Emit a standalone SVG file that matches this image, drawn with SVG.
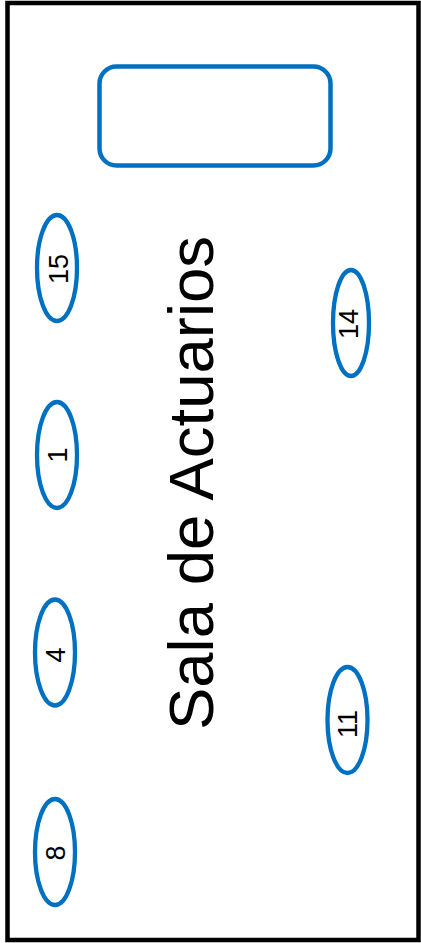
<svg xmlns="http://www.w3.org/2000/svg" width="421" height="943" viewBox="0 0 421 943">
<style>
.seat{fill:#fff;stroke:#0070C0;stroke-width:4.3}
.num{font-family:"Liberation Sans",Arial,sans-serif;font-size:27px;fill:#000;text-anchor:middle}
.title{font-family:"Liberation Sans",Arial,sans-serif;font-size:63.5px;fill:#000;text-anchor:middle}
</style>
<rect x="0" y="0" width="421" height="943" fill="#fff"/>
<g id="room"><rect x="7.5" y="3" width="411" height="937" fill="#fff" stroke="#000" stroke-width="4.5"/></g>
<g id="screen"><rect x="99.5" y="66.5" width="231" height="99" rx="17" fill="#fff" stroke="#0070C0" stroke-width="4.5"/></g>
<g id="title"><text class="title" transform="translate(190,483) rotate(-90)" x="0" y="22.7">Sala de Actuarios</text></g>
<g id="seat15"><ellipse class="seat" cx="57" cy="268" rx="20" ry="53"/><text class="num" transform="translate(58,269) rotate(-90)" x="0" y="9.7">15</text></g>
<g id="seat1"><ellipse class="seat" cx="57" cy="455" rx="20" ry="53"/><text class="num" transform="translate(57.5,455) rotate(-90)" x="0" y="9.7">1</text></g>
<g id="seat4"><ellipse class="seat" cx="55" cy="652.5" rx="20" ry="53"/><text class="num" transform="translate(55.5,655) rotate(-90)" x="0" y="9.7">4</text></g>
<g id="seat8"><ellipse class="seat" cx="55" cy="852" rx="20" ry="53"/><text class="num" transform="translate(55,853) rotate(-90)" x="0" y="9.7">8</text></g>
<g id="seat14"><ellipse class="seat" cx="351" cy="323" rx="18" ry="53"/><text class="num" transform="translate(348,324) rotate(-90)" x="0" y="9.7">14</text></g>
<g id="seat11"><ellipse class="seat" cx="347.5" cy="720" rx="20" ry="53"/><text class="num" transform="translate(347.5,724) rotate(-90)" x="0" y="9.7">11</text></g>
<g id="connectors"></g>
</svg>
